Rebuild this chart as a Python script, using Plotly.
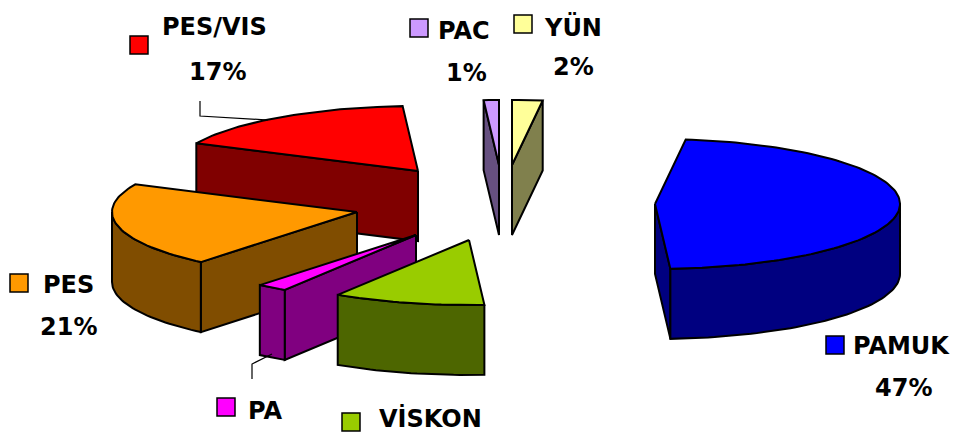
import math
import plotly.graph_objects as go

# Data, clockwise from 12 o'clock
categories = ["YÜN", "PAMUK", "VİSKON", "PA", "PES", "PES/VIS", "PAC"]
values = [2, 47, 10, 2, 21, 17, 1]
shown_pct = ["2%", "47%", "", "", "21%", "17%", "1%"]

# Styles and layout
top_colors = ["#FFFF99", "#0000FF", "#99CC00", "#FF00FF", "#FF9900", "#FF0000", "#CC99FF"]
side_colors = ["#80804D", "#000080", "#4D6600", "#800080", "#804D00", "#800000", "#665080"]
apex = {"YÜN": (512, 165), "PAMUK": (655, 204), "VİSKON": (469, 240), "PA": (416, 235),
        "PES": (357, 212), "PES/VIS": (418, 171), "PAC": (499, 165)}
draw_order = ["PES/VIS", "PES", "PA", "VİSKON", "PAC", "YÜN", "PAMUK"]
RX, RY, DEPTH = 245, 65, 70
FONT = dict(family="DejaVu Sans", size=24, color="black")
label_pos = {"YÜN": (573, 27), "PAMUK": (901, 346), "VİSKON": (430, 418), "PA": (265, 411),
             "PES": (68, 285), "PES/VIS": (214, 27), "PAC": (464, 31)}
pct_pos = {"YÜN": (573, 67), "PAMUK": (903, 388), "PES": (68, 327), "PES/VIS": (217, 72), "PAC": (466, 73)}
key_pos = {"YÜN": (514, 15), "PAMUK": (826, 336), "VİSKON": (342, 413), "PA": (217, 398),
           "PES": (10, 274), "PES/VIS": (130, 36), "PAC": (410, 19)}
KEY = 18
leaders = [([200, 200, 268], [101, 116, 120]), ([252, 252, 272], [379, 364, 354])]

total = sum(values)
spans, start = {}, 0.0
for name, v in zip(categories, values):
    spans[name] = (start, start + 360.0 * v / total)
    start += 360.0 * v / total


def arc(name):
    a0, a1 = spans[name]
    cx, cy = apex[name]
    n = max(2, int((a1 - a0) / 1.5) + 1)
    pts = []
    for i in range(n + 1):
        t = math.radians(a0 + (a1 - a0) * i / n)
        pts.append((cx + RX * math.sin(t), cy - RY * math.cos(t)))
    return pts


def face(run):
    return run + [(x, y + DEPTH) for x, y in reversed(run)]


fig = go.Figure()


def add_poly(pts, color):
    pts = pts + [pts[0]]
    fig.add_trace(go.Scatter(x=[p[0] for p in pts], y=[p[1] for p in pts], mode="lines",
                             fill="toself", fillcolor=color, hoverinfo="skip",
                             line=dict(color="black", width=2), showlegend=False))


for name in draw_order:
    i = categories.index(name)
    a = arc(name)
    c = apex[name]
    if a[0][0] < c[0]:
        add_poly(face([c, a[0]]), side_colors[i])
    if a[-1][0] > c[0]:
        add_poly(face([a[-1], c]), side_colors[i])
    run = []
    for p, q in zip(a, a[1:]):
        if q[0] < p[0]:  # arc segment faces the viewer
            if not run:
                run.append(p)
            run.append(q)
    if run:
        add_poly(face(run), side_colors[i])
    add_poly([c] + a, top_colors[i])

for xs, ys in leaders:
    fig.add_trace(go.Scatter(x=xs, y=ys, mode="lines", hoverinfo="skip",
                             line=dict(color="black", width=1.2), showlegend=False))

annotations, shapes = [], []
for name, pct, col in zip(categories, shown_pct, top_colors):
    x, y = label_pos[name]
    annotations.append(dict(x=x, y=y, text=f"<b>{name}</b>", showarrow=False, font=FONT))
    if pct:
        x, y = pct_pos[name]
        annotations.append(dict(x=x, y=y, text=f"<b>{pct}</b>", showarrow=False, font=FONT))
    kx, ky = key_pos[name]
    shapes.append(dict(type="rect", x0=kx, y0=ky, x1=kx + KEY, y1=ky + KEY, fillcolor=col,
                       line=dict(color="black", width=1.5)))

fig.update_layout(width=954, height=433, margin=dict(l=0, r=0, t=0, b=0),
                  paper_bgcolor="white", plot_bgcolor="white", showlegend=False,
                  annotations=annotations, shapes=shapes,
                  xaxis=dict(range=[0, 954], visible=False, fixedrange=True),
                  yaxis=dict(range=[433, 0], visible=False, fixedrange=True))
fig.write_html("out.html", config={"displayModeBar": False},
               post_script="document.body.style.margin='0';document.documentElement.style.overflow='hidden';")
